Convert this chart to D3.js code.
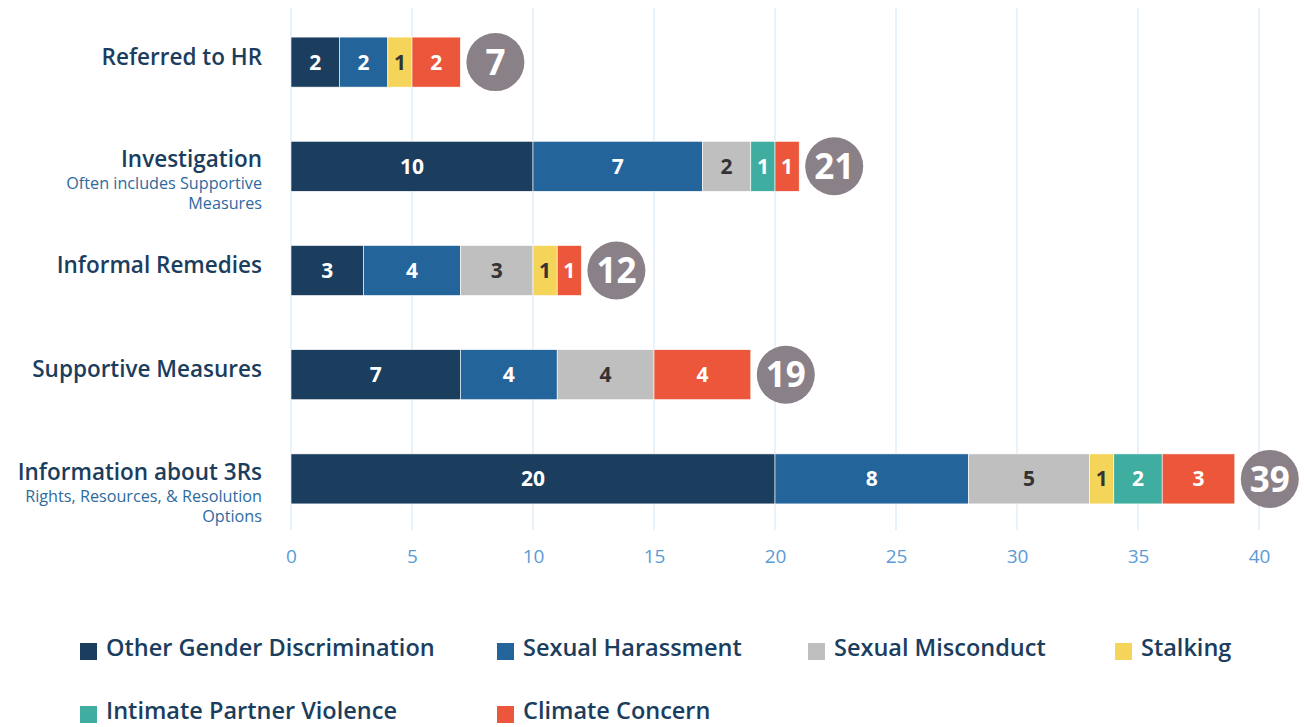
<!DOCTYPE html>
<html>
<head>
<meta charset="utf-8">
<script src="https://cdn.jsdelivr.net/npm/d3@7"></script>
<style>
  body { margin: 0; background: #fff; }
  svg text { font-family: "Open Sans", "Noto Sans", sans-serif; }
</style>
</head>
<body>
<svg id="chart"></svg>
<script>
// categories, top to bottom
const categories = ["Referred to HR", "Investigation", "Informal Remedies", "Supportive Measures", "Information about 3Rs"];
const subLabels = [[], ["Often includes Supportive", "Measures"], [], [], ["Rights, Resources, & Resolution", "Options"]];
const seriesNames = ["Other Gender Discrimination", "Sexual Harassment", "Sexual Misconduct", "Stalking", "Intimate Partner Violence", "Climate Concern"];
const seriesColors = ["#1b3d5e", "#23649b", "#bfbfbf", "#f5d45a", "#3fada0", "#ec573b"];
const seriesTextColors = ["#fff", "#fff", "#333", "#333", "#fff", "#fff"];

const otherGender = [2, 10, 3, 7, 20];
const sexualHarassment = [2, 7, 4, 4, 8];
const sexualMisconduct = [0, 2, 3, 4, 5];
const stalking = [1, 0, 1, 0, 1];
const intimatePartner = [0, 1, 0, 0, 2];
const climateConcern = [2, 1, 1, 4, 3];
const xTicks = [0, 5, 10, 15, 20, 25, 30, 35, 40];

const seriesValues = [otherGender, sexualHarassment, sexualMisconduct, stalking, intimatePartner, climateConcern];

const W = 1304, H = 727;
const margin = { top: 10, left: 291, right: 45 };
const plotBottom = 530;

const svg = d3.select("#chart").attr("width", W).attr("height", H);

// build rows for stacking
const rows = categories.map((c, i) => {
    const r = { cat: c };
    seriesNames.forEach((s, j) => r[s] = seriesValues[j][i]);
    return r;
});
const stacked = d3.stack().keys(seriesNames)(rows);
const totals = rows.map(r => d3.sum(seriesNames, s => r[s]));

const x = d3.scaleLinear().domain([0, 40]).range([margin.left, 1259]);
const y = d3.scaleBand().domain(categories).range([10, 531]).paddingInner(0.52).paddingOuter(0.26);

// grid lines
svg.append("g")
    .selectAll("line")
    .data(xTicks)
    .join("line")
    .attr("x1", d => x(d)).attr("x2", d => x(d))
    .attr("y1", margin.top - 2).attr("y2", plotBottom)
    .attr("stroke", "#dce9f5")
    .attr("stroke-width", 1.2);

// x axis tick labels
const xAxis = d3.axisBottom(x).tickValues(xTicks).tickSize(0).tickPadding(0);
const gX = svg.append("g")
    .attr("transform", "translate(0,548)")
    .call(xAxis);
gX.select(".domain").remove();
gX.selectAll(".tick text")
    .attr("fill", "#5b9bd5")
    .style("font-size", "19px")
    .attr("dy", "0.8em");

// bars
const layers = svg.append("g")
    .selectAll("g")
    .data(stacked)
    .join("g")
    .attr("fill", (d, i) => seriesColors[i]);

layers.selectAll("rect")
    .data(d => d)
    .join("rect")
    .attr("x", d => x(d[0]))
    .attr("y", d => y(d.data.cat))
    .attr("width", d => x(d[1]) - x(d[0]))
    .attr("height", y.bandwidth())
    .attr("stroke", "#fff")
    .attr("stroke-width", 0.6);

// segment labels
stacked.forEach((layer, i) => {
    svg.append("g")
        .selectAll("text")
        .data(layer.filter(d => d[1] - d[0] > 0))
        .join("text")
        .attr("x", d => (x(d[0]) + x(d[1])) / 2)
        .attr("y", d => y(d.data.cat) + y.bandwidth() / 2)
        .attr("text-anchor", "middle")
        .attr("dy", "0.36em")
        .attr("fill", seriesTextColors[i])
        .style("font-size", "21px")
        .style("font-weight", "700")
        .text(d => d[1] - d[0]);
});

// total circles
const totG = svg.append("g")
    .selectAll("g")
    .data(categories)
    .join("g")
    .attr("transform", (c, i) => `translate(${x(totals[i]) + 35},${y(c) + y.bandwidth() / 2})`);
totG.append("circle").attr("r", 29).attr("fill", "#8a8088");
totG.append("text")
    .attr("text-anchor", "middle")
    .attr("dy", "0.36em")
    .attr("fill", "#fff")
    .style("font-size", "35px")
    .style("font-weight", "700")
    .text((c, i) => totals[i]);

// category labels
const catG = svg.append("g")
    .selectAll("g")
    .data(categories)
    .join("g")
    .attr("transform", c => `translate(262,${y(c) + y.bandwidth() / 2})`);
catG.append("text")
    .attr("text-anchor", "end")
    .attr("y", (c, i) => subLabels[i].length ? -7 : -5)
    .attr("dy", "0.34em")
    .attr("fill", "#1b3d5e")
    .style("font-size", "22.5px")
    .style("font-weight", "600")
    .text(c => c);
catG.each(function (c, i) {
    d3.select(this).selectAll("text.sub")
        .data(subLabels[i])
        .join("text")
        .attr("class", "sub")
        .attr("text-anchor", "end")
        .attr("y", (s, k) => 17 + k * 20)
        .attr("dy", "0.36em")
        .attr("fill", "#2e6aa0")
        .style("font-size", "16.2px")
        .text(s => s);
});

// legend
const legendPos = [[80, 648], [497, 648], [808, 648], [1115, 648], [80, 711], [497, 711]];
const leg = svg.append("g")
    .selectAll("g")
    .data(seriesNames)
    .join("g")
    .attr("transform", (s, i) => `translate(${legendPos[i][0]},${legendPos[i][1]})`);
leg.append("rect")
    .attr("x", 0).attr("y", -5)
    .attr("width", 17).attr("height", 17)
    .attr("fill", (s, i) => seriesColors[i]);
leg.append("text")
    .attr("x", 26)
    .attr("dy", "0.36em")
    .attr("fill", "#1b3d5e")
    .style("font-size", "23.5px")
    .style("font-weight", "600")
    .text(s => s);
</script>
</body>
</html>
